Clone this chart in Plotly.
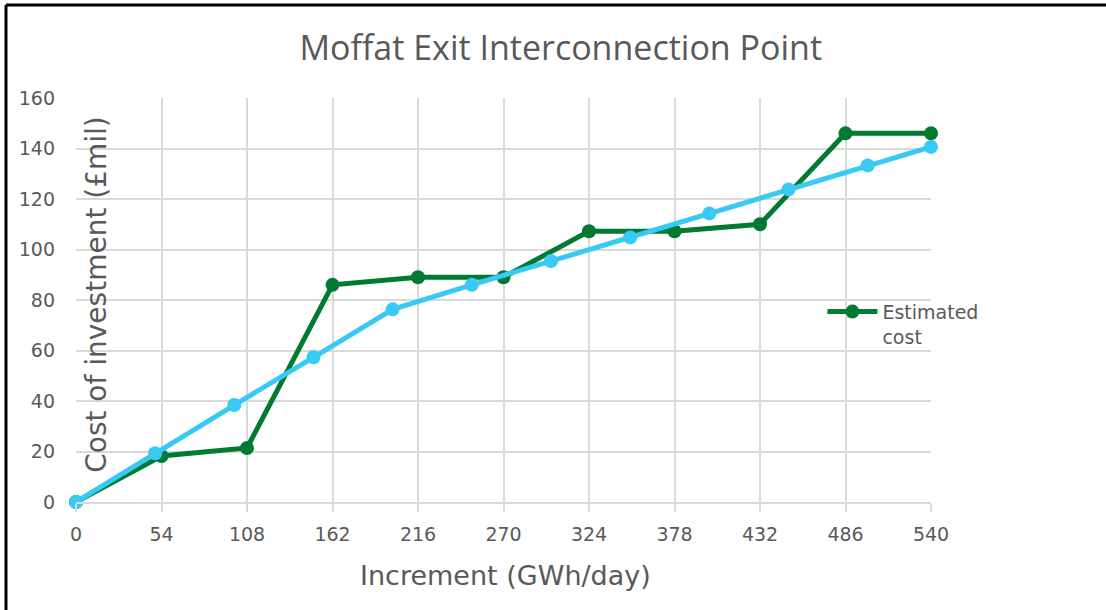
import plotly.graph_objects as go

# Data
est_x = [0, 54, 108, 162, 216, 270, 324, 378, 432, 486, 540]
est_y = [0, 18.2, 21.4, 86, 89, 89, 107.2, 107.2, 110, 146, 146]
fit_x = [0, 50, 100, 150, 200, 250, 300, 350, 400, 450, 500, 540]
fit_y = [0, 19.3, 38.4, 57.3, 76.3, 86, 95.4, 104.8, 114.3, 123.8, 133.3, 140.6]
x_ticks = [0, 54, 108, 162, 216, 270, 324, 378, 432, 486, 540]
y_ticks = [0, 20, 40, 60, 80, 100, 120, 140, 160]

GREEN = "#027A32"
BLUE = "#38C9F4"
TXT = "#595959"
GRID = "#D9D9D9"
FONT = "DejaVu Sans"

fig = go.Figure()
fig.add_trace(go.Scatter(x=est_x, y=est_y, mode="lines+markers", name="Estimated<br>cost",
                         line=dict(color=GREEN, width=5), marker=dict(color=GREEN, size=14),
                         cliponaxis=False))
fig.add_trace(go.Scatter(x=fit_x, y=fit_y, mode="lines+markers", showlegend=False,
                         line=dict(color=BLUE, width=5), marker=dict(color=BLUE, size=14),
                         cliponaxis=False))

fig.update_layout(
    width=1106, height=610,
    margin=dict(l=76, r=175, t=98, b=108),
    paper_bgcolor="white", plot_bgcolor="white",
    font=dict(family=FONT, color=TXT),
    title=dict(text="Moffat Exit Interconnection Point", x=0.507, xanchor="center",
               y=1 - 48 / 610, yanchor="middle",
               font=dict(family="Open Sans", size=34, color=TXT)),
    showlegend=True,
    legend=dict(x=0.873, y=0.44, xanchor="left", yanchor="middle", bgcolor="rgba(0,0,0,0)",
                font=dict(size=19, color=TXT), itemwidth=50, valign="top"),
    xaxis=dict(range=[0, 540], tickvals=x_ticks, ticktext=[str(v) for v in x_ticks],
               showgrid=True, gridcolor=GRID, gridwidth=2, zeroline=False,
               showline=True, linecolor=GRID, linewidth=2,
               ticks="outside", ticklen=8, tickcolor=GRID, tickwidth=2,
               tickfont=dict(size=19, color=TXT), ticklabelstandoff=6),
    yaxis=dict(range=[0, 160], tickvals=y_ticks, showgrid=True, gridcolor=GRID, gridwidth=2,
               zeroline=False, showline=False, ticks="", tickfont=dict(size=19, color=TXT),
               ticklabelstandoff=20),
)

fig.add_annotation(text="Increment (GWh/day)", xref="paper", yref="paper", x=0.502, y=-0.183,
                   showarrow=False, font=dict(size=27, color=TXT), xanchor="center", yanchor="middle")
fig.add_annotation(text="Cost of investment (£mil)", xref="paper", yref="paper", x=0.0246, y=0.513,
                   showarrow=False, textangle=-90, font=dict(size=28, color=TXT),
                   xanchor="center", yanchor="middle")

# Chart border (left and top)
fig.add_shape(type="line", xref="paper", yref="paper", x0=(6 - 76) / 855, x1=(6 - 76) / 855,
              y0=(502 - 610) / 404, y1=(502 - 5) / 404, line=dict(color="black", width=3))
fig.add_shape(type="line", xref="paper", yref="paper", x0=(6 - 76) / 855, x1=(1106 - 76) / 855,
              y0=(502 - 5) / 404, y1=(502 - 5) / 404, line=dict(color="black", width=3))

fig.write_html("out.html", config={"displayModeBar": False},
               post_script="document.body.style.margin='0';document.body.style.padding='0';"
                           "document.body.style.overflow='hidden';")
